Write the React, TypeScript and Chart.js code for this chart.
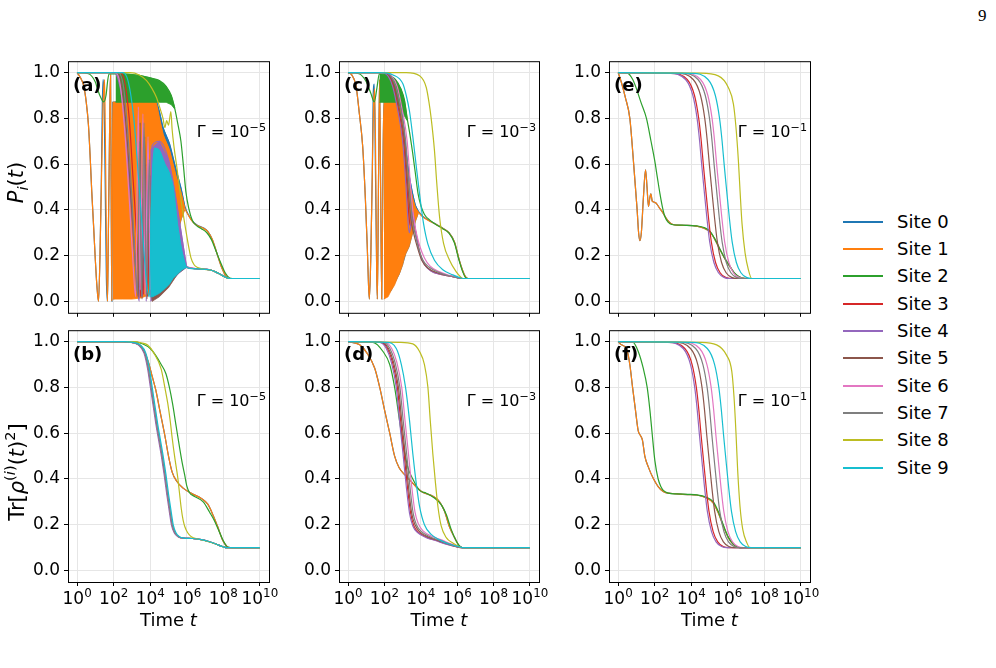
import React, { useEffect, useRef } from 'react';
import { Chart, registerables } from 'chart.js';
Chart.register(...registerables);

type Pt = [number, number];          // [log10 t, value]
type Band = [number, number, number]; // [log10 t, low, high]

const SITE_LABELS = ['Site 0', 'Site 1', 'Site 2', 'Site 3', 'Site 4', 'Site 5', 'Site 6', 'Site 7', 'Site 8', 'Site 9'];
const SITE_COLORS = ['#1f77b4', '#ff7f0e', '#2ca02c', '#d62728', '#9467bd', '#8c564b', '#e377c2', '#7f7f7f', '#bcbd22', '#17becf'];
const X_TICK_EXP = [0, 2, 4, 6, 8, 10];
const X_TICK_BASE = '10';
const X_TICK_SUPS = ['0', '2', '4', '6', '8', '10'];
const X_RANGE_EXP = [-0.5, 10.5];
const Y_TICKS = [0, 0.2, 0.4, 0.6, 0.8, 1.0];
const Y_RANGE = [-0.05, 1.05];

// ---------------- Panel (a): populations, Gamma = 1e-5 ----------------
const A_S0: Pt[] = [[0,1],[0.2,0.975],[0.35,0.945],[0.5,0.87],[0.62,0.77],[0.72,0.62],[0.8,0.48],[0.9,0.33],[0.99,0.19],[1.08,0.07],[1.17,0.0],[1.25,0.2],[1.32,0.5],[1.38,0.87],[1.42,0.97],[1.47,0.9],[1.53,0.55],[1.6,0.1],[1.66,0.0],[1.71,0.3],[1.76,0.63],[1.8,0.9],[1.83,0.99],[1.86,0.5],[1.9,0.0],[1.95,0.87],[4.3,0.88],[4.5,0.83],[4.7,0.76],[5.05,0.69],[5.4,0.58],[5.7,0.49],[5.88,0.42],[6.1,0.377],[6.35,0.347],[6.6,0.332],[6.9,0.322],[7.15,0.306],[7.4,0.27],[7.65,0.21],[7.9,0.15],[8.15,0.11],[8.35,0.1],[10,0.1]];
const A_B0: Band[] = [[1.95,0.01,0.87],[4.3,0.05,0.88],[4.5,0.08,0.83],[4.7,0.11,0.76],[5.05,0.17,0.69],[5.4,0.27,0.58],[5.7,0.36,0.49],[5.88,0.4,0.42]];
const A_S1: Pt[] = [[0,1],[0.2,0.975],[0.35,0.945],[0.5,0.87],[0.62,0.77],[0.72,0.62],[0.8,0.48],[0.9,0.33],[0.99,0.19],[1.08,0.07],[1.17,0.0],[1.25,0.2],[1.32,0.48],[1.4,0.8],[1.45,0.92],[1.5,0.97],[1.54,0.75],[1.58,0.45],[1.62,0.15],[1.66,0.0],[1.71,0.3],[1.76,0.63],[1.8,0.9],[1.83,0.99],[1.86,0.5],[1.9,0.0],[1.95,0.87],[4.3,0.87],[4.5,0.8],[4.7,0.73],[5.05,0.66],[5.4,0.55],[5.7,0.47],[5.88,0.41],[6.1,0.375],[6.35,0.345],[6.6,0.33],[6.9,0.32],[7.15,0.305],[7.4,0.27],[7.65,0.21],[7.9,0.15],[8.15,0.11],[8.35,0.1],[10,0.1]];
const A_B1: Band[] = [[1.95,0.01,0.87],[2.5,0.01,0.87],[3.0,0.01,0.87],[3.5,0.015,0.87],[4.0,0.03,0.87],[4.3,0.05,0.87],[4.5,0.08,0.8],[4.7,0.11,0.73],[5.05,0.17,0.66],[5.4,0.27,0.55],[5.7,0.36,0.47],[5.88,0.4,0.41]];
const A_S2: Pt[] = [[0,1],[0.62,0.995],[0.99,0.96],[1.15,0.92],[1.3,0.89],[1.45,0.872],[1.58,0.9],[1.68,0.97],[1.75,0.995],[2.5,0.995],[3.4,0.988],[4.1,0.975],[4.5,0.965],[4.87,0.94],[5.15,0.9],[5.35,0.84],[5.5,0.78],[5.68,0.7],[5.82,0.59],[5.95,0.48],[6.1,0.41],[6.3,0.355],[6.55,0.33],[6.8,0.318],[7.1,0.3],[7.35,0.27],[7.6,0.22],[7.85,0.17],[8.1,0.125],[8.35,0.102],[8.5,0.1],[10,0.1]];
const A_B2: Band[] = [[2.1,0.87,0.995],[2.5,0.87,0.995],[3.4,0.87,0.988],[4.1,0.87,0.975],[4.5,0.87,0.965],[4.87,0.87,0.94],[5.15,0.86,0.9],[5.35,0.84,0.845]];
const A_S3: Pt[] = [[0,1],[2.3,1],[2.6,0.96],[2.85,0.8],[3.05,0.55],[3.25,0.3],[3.4,0.08],[3.48,0.02],[3.56,0.45],[3.64,0.03],[3.75,0.6],[3.86,0.02],[4.0,0.55],[4.15,0.04],[4.35,0.5],[4.55,0.06],[4.8,0.42],[5.0,0.08],[5.25,0.3],[5.5,0.13],[5.75,0.16],[6.0,0.148],[6.5,0.143],[7.0,0.14],[7.3,0.137],[7.6,0.128],[7.9,0.115],[8.15,0.105],[8.35,0.1],[10,0.1]];
const A_S4: Pt[] = [[0,1],[2.0,1],[2.25,0.97],[2.5,0.86],[2.75,0.62],[2.95,0.42],[3.15,0.2],[3.3,0.05],[3.4,0.0],[3.5,0.55],[3.58,0.02],[3.68,0.7],[3.78,0.0],[3.9,0.66],[4.0,0.02],[4.1,0.68],[4.5,0.7],[5.0,0.62],[5.3,0.5],[5.6,0.35],[5.85,0.22],[6.0,0.152],[6.5,0.143],[7.0,0.14],[7.3,0.137],[7.6,0.128],[7.9,0.115],[8.15,0.105],[8.35,0.1],[10,0.1]];
const A_B4: Band[] = [[4.0,0.0,0.66],[4.2,0.01,0.68],[4.5,0.03,0.7],[5.0,0.07,0.62],[5.3,0.1,0.5],[5.6,0.125,0.35],[5.85,0.14,0.22],[6.0,0.148,0.152]];
const A_S5: Pt[] = [[0,1],[2.15,1],[2.4,0.96],[2.7,0.75],[2.95,0.45],[3.2,0.15],[3.35,0.02],[3.45,0.78],[3.55,0.01],[3.7,0.72],[3.82,0.01],[3.95,0.5],[4.1,0.0],[4.3,0.35],[4.5,0.35],[5.0,0.3],[5.5,0.2],[5.95,0.15],[6.5,0.143],[7.0,0.14],[7.3,0.137],[7.6,0.128],[7.9,0.115],[8.15,0.105],[8.35,0.1],[10,0.1]];
const A_B5: Band[] = [[4.1,0.0,0.3],[4.5,0.02,0.35],[5.0,0.06,0.3],[5.5,0.12,0.2],[5.95,0.148,0.15]];
const A_S6: Pt[] = [[0,1],[2.05,1],[2.35,0.95],[2.6,0.75],[2.85,0.45],[3.05,0.18],[3.2,0.02],[3.35,0.85],[3.45,0.05],[3.6,0.82],[3.72,0.03],[3.88,0.72],[4.02,0.05],[4.2,0.6],[4.4,0.08],[4.6,0.5],[4.85,0.1],[5.1,0.4],[5.35,0.13],[5.6,0.25],[5.85,0.15],[6.0,0.148],[6.5,0.143],[7.0,0.14],[7.3,0.137],[7.6,0.128],[7.9,0.115],[8.15,0.105],[8.35,0.1],[10,0.1]];
const A_S7: Pt[] = [[0,1],[2.25,1],[2.55,0.93],[2.85,0.65],[3.1,0.3],[3.3,0.03],[3.42,0.7],[3.52,0.02],[3.66,0.78],[3.8,0.02],[3.95,0.62],[4.1,0.03],[4.3,0.55],[4.5,0.05],[4.75,0.45],[5.0,0.09],[5.25,0.32],[5.5,0.13],[5.75,0.17],[6.0,0.148],[6.5,0.143],[7.0,0.14],[7.3,0.137],[7.6,0.128],[7.9,0.115],[8.15,0.105],[8.35,0.1],[10,0.1]];
const A_S8: Pt[] = [[0,1],[2.9,1],[3.4,0.99],[3.8,0.965],[4.1,0.93],[4.35,0.89],[4.55,0.84],[4.7,0.8],[4.8,0.76],[4.9,0.79],[5.0,0.77],[5.13,0.83],[5.2,0.75],[5.31,0.67],[5.45,0.59],[5.58,0.51],[5.75,0.41],[5.95,0.31],[6.1,0.24],[6.23,0.19],[6.4,0.16],[6.6,0.148],[7.0,0.14],[7.3,0.137],[7.6,0.128],[7.9,0.115],[8.15,0.105],[8.35,0.1],[10,0.1]];
const A_S9: Pt[] = [[0,1],[2.5,1],[2.8,0.96],[3.1,0.8],[3.35,0.55],[3.6,0.28],[3.8,0.08],[3.95,0.02],[4.05,0.35],[4.15,0.6],[4.25,0.67],[4.5,0.66],[4.8,0.6],[5.05,0.56],[5.25,0.5],[5.5,0.33],[5.7,0.23],[5.85,0.18],[5.97,0.15],[6.3,0.143],[7.0,0.14],[7.3,0.137],[7.6,0.128],[7.9,0.115],[8.15,0.105],[8.35,0.1],[10,0.1]];
const A_B9: Band[] = [[4.0,0.02,0.3],[4.15,0.02,0.6],[4.25,0.025,0.67],[4.5,0.035,0.66],[4.8,0.055,0.6],[5.05,0.075,0.56],[5.25,0.1,0.5],[5.5,0.12,0.33],[5.7,0.135,0.23],[5.85,0.143,0.18],[5.97,0.148,0.15]];

// ---------------- Panel (b): purity, Gamma = 1e-5 ----------------
const B_S01: Pt[] = [[0,1],[2.5,1],[3.2,0.995],[3.6,0.97],[3.9,0.91],[4.1,0.85],[4.3,0.79],[4.55,0.69],[4.8,0.59],[5.0,0.5],[5.2,0.43],[5.45,0.39],[5.8,0.36],[6.3,0.335],[6.8,0.315],[7.15,0.29],[7.45,0.24],[7.7,0.19],[7.95,0.135],[8.2,0.105],[8.4,0.1],[10,0.1]];
const B_S2: Pt[] = [[0,1],[3.0,1],[3.6,0.99],[4.0,0.97],[4.3,0.94],[4.6,0.9],[4.86,0.86],[5.05,0.8],[5.22,0.73],[5.4,0.64],[5.6,0.54],[5.75,0.47],[5.88,0.42],[6.0,0.37],[6.15,0.34],[6.4,0.325],[6.9,0.3],[7.25,0.255],[7.5,0.22],[7.75,0.175],[8.0,0.13],[8.25,0.102],[8.5,0.1],[10,0.1]];
const B_BULK: Pt[] = [[0,1],[2.5,1],[3.0,0.997],[3.4,0.985],[3.7,0.95],[3.9,0.88],[4.05,0.8],[4.2,0.72],[4.35,0.64],[4.5,0.57],[4.65,0.5],[4.8,0.42],[4.95,0.33],[5.1,0.25],[5.2,0.2],[5.35,0.165],[5.55,0.148],[5.8,0.142],[6.3,0.14],[6.8,0.135],[7.2,0.127],[7.6,0.116],[7.95,0.105],[8.2,0.1],[10,0.1]];
const B_S4: Pt[] = [[0,1],[2.45,1],[2.96,0.997],[3.36,0.985],[3.66,0.95],[3.86,0.88],[4.01,0.8],[4.16,0.72],[4.31,0.64],[4.46,0.57],[4.61,0.5],[4.76,0.42],[4.91,0.33],[5.06,0.25],[5.16,0.2],[5.31,0.165],[5.52,0.148],[5.8,0.142],[6.3,0.14],[6.8,0.135],[7.2,0.127],[7.6,0.116],[7.95,0.105],[8.2,0.1],[10,0.1]];
const B_S8: Pt[] = [[0,1],[3.0,1],[3.5,0.995],[3.86,0.985],[4.2,0.95],[4.6,0.88],[4.8,0.8],[4.96,0.73],[5.1,0.65],[5.2,0.58],[5.35,0.49],[5.5,0.41],[5.6,0.34],[5.7,0.27],[5.8,0.22],[5.9,0.19],[6.05,0.165],[6.25,0.148],[6.6,0.138],[7.0,0.13],[7.5,0.118],[7.9,0.106],[8.2,0.1],[10,0.1]];
const B_S9: Pt[] = [[0,1],[2.55,1],[3.06,0.997],[3.46,0.985],[3.76,0.95],[3.96,0.88],[4.11,0.8],[4.26,0.72],[4.41,0.64],[4.56,0.57],[4.71,0.5],[4.86,0.42],[5.01,0.33],[5.16,0.25],[5.26,0.2],[5.41,0.165],[5.6,0.148],[5.85,0.142],[6.3,0.14],[6.8,0.135],[7.2,0.127],[7.6,0.116],[7.95,0.105],[8.2,0.1],[10,0.1]];

// ---------------- Panel (c): populations, Gamma = 1e-3 ----------------
const C_S0: Pt[] = [[0,1],[0.2,0.99],[0.44,0.94],[0.62,0.82],[0.8,0.68],[0.95,0.45],[1.05,0.25],[1.12,0.08],[1.17,0.01],[1.25,0.2],[1.33,0.55],[1.38,0.9],[1.44,0.95],[1.5,0.6],[1.57,0.15],[1.61,0.01],[1.67,0.5],[1.73,0.97],[1.79,0.5],[1.85,0.01],[1.92,0.6],[1.97,0.87],[2.82,0.875],[3.0,0.8],[3.18,0.66],[3.36,0.55],[3.55,0.47],[3.7,0.42],[3.86,0.395],[4.1,0.372],[4.4,0.356],[4.75,0.341],[5.2,0.321],[5.55,0.3],[5.85,0.26],[6.1,0.185],[6.3,0.135],[6.45,0.108],[6.6,0.1],[10,0.1]];
const C_B0: Band[] = [[1.97,0.01,0.87],[2.36,0.046,0.87],[2.72,0.104,0.87],[2.82,0.12,0.875],[3.0,0.16,0.8],[3.18,0.21,0.66],[3.36,0.24,0.55],[3.55,0.3,0.47],[3.7,0.35,0.42],[3.86,0.385,0.395]];
const C_S1: Pt[] = [[0,1],[0.2,0.99],[0.44,0.94],[0.62,0.82],[0.8,0.68],[0.95,0.45],[1.05,0.25],[1.12,0.08],[1.17,0.01],[1.25,0.2],[1.33,0.55],[1.4,0.85],[1.46,0.93],[1.52,0.6],[1.57,0.15],[1.61,0.01],[1.67,0.5],[1.73,0.97],[1.79,0.5],[1.85,0.01],[1.92,0.6],[1.97,0.87],[2.82,0.87],[3.0,0.77],[3.18,0.62],[3.36,0.52],[3.55,0.45],[3.7,0.41],[3.86,0.39],[4.1,0.37],[4.4,0.355],[4.75,0.34],[5.2,0.32],[5.55,0.3],[5.85,0.26],[6.1,0.185],[6.3,0.135],[6.45,0.108],[6.6,0.1],[10,0.1]];
const C_B1: Band[] = [[1.97,0.01,0.87],[2.2,0.02,0.87],[2.36,0.046,0.87],[2.55,0.07,0.87],[2.72,0.104,0.87],[2.82,0.12,0.87],[3.0,0.16,0.77],[3.09,0.19,0.7],[3.18,0.21,0.62],[3.36,0.24,0.52],[3.55,0.3,0.45],[3.7,0.35,0.41],[3.86,0.385,0.39]];
const C_S2: Pt[] = [[0,1],[0.6,0.995],[1.0,0.96],[1.25,0.91],[1.44,0.872],[1.58,0.93],[1.72,0.995],[2.2,0.99],[2.6,0.97],[2.9,0.93],[3.1,0.88],[3.25,0.8],[3.4,0.73],[3.55,0.65],[3.7,0.56],[3.85,0.47],[4.0,0.42],[4.2,0.38],[4.5,0.355],[4.75,0.34],[5.2,0.318],[5.55,0.298],[5.85,0.255],[6.1,0.18],[6.3,0.13],[6.45,0.105],[6.6,0.1],[10,0.1]];
const C_B2: Band[] = [[1.72,0.87,0.995],[2.2,0.87,0.99],[2.6,0.87,0.97],[2.9,0.85,0.93],[3.1,0.81,0.88],[3.25,0.79,0.8]];
const C_S3: Pt[] = [[0,1],[1.85,1],[2.25,0.985],[2.5,0.94],[2.77,0.84],[3.04,0.7],[3.22,0.52],[3.36,0.36],[3.45,0.33],[3.55,0.37],[3.65,0.33],[3.78,0.28],[3.95,0.21],[4.22,0.16],[4.6,0.132],[5.1,0.118],[5.65,0.11],[6.0,0.104],[6.3,0.1],[10,0.1]];
const C_S4: Pt[] = [[0,1],[1.8,1],[2.2,0.985],[2.45,0.94],[2.72,0.84],[3.0,0.7],[3.18,0.51],[3.31,0.335],[3.37,0.3],[3.45,0.33],[3.55,0.39],[3.64,0.35],[3.73,0.3],[3.91,0.22],[4.19,0.162],[4.55,0.133],[5.1,0.118],[5.65,0.11],[6.0,0.104],[6.3,0.1],[10,0.1]];
const C_S5: Pt[] = [[0,1],[1.9,1],[2.3,0.985],[2.55,0.94],[2.82,0.84],[3.1,0.7],[3.28,0.51],[3.45,0.36],[3.6,0.3],[3.8,0.24],[4.05,0.18],[4.4,0.145],[4.9,0.125],[5.5,0.112],[6.0,0.104],[6.3,0.1],[10,0.1]];
const C_S6: Pt[] = [[0,1],[2.0,1],[2.4,0.985],[2.7,0.94],[2.97,0.84],[3.25,0.7],[3.43,0.51],[3.6,0.37],[3.75,0.3],[3.95,0.24],[4.2,0.19],[4.5,0.155],[5.0,0.13],[5.5,0.115],[6.0,0.105],[6.35,0.1],[10,0.1]];
const C_S7: Pt[] = [[0,1],[1.95,1],[2.35,0.985],[2.62,0.94],[2.9,0.84],[3.17,0.7],[3.35,0.51],[3.52,0.37],[3.67,0.3],[3.87,0.235],[4.12,0.18],[4.45,0.15],[4.95,0.128],[5.5,0.113],[6.0,0.104],[6.3,0.1],[10,0.1]];
const C_S8: Pt[] = [[0,1],[3.2,1],[3.93,0.986],[4.3,0.935],[4.45,0.87],[4.57,0.8],[4.75,0.66],[4.88,0.514],[5.03,0.37],[5.25,0.254],[5.58,0.18],[5.94,0.13],[6.15,0.11],[6.31,0.1],[10,0.1]];
const C_S9: Pt[] = [[0,1],[1.74,1],[2.47,0.99],[3.02,0.95],[3.2,0.9],[3.38,0.83],[3.56,0.72],[3.75,0.59],[3.93,0.47],[4.15,0.34],[4.39,0.25],[4.75,0.18],[5.21,0.138],[5.76,0.116],[6.1,0.105],[6.31,0.1],[10,0.1]];

// ---------------- Panel (d): purity, Gamma = 1e-3 ----------------
const D_S01: Pt[] = [[0,1],[0.64,0.986],[1.04,0.95],[1.46,0.885],[1.74,0.8],[2.01,0.7],[2.29,0.6],[2.56,0.5],[2.8,0.45],[3.1,0.42],[3.4,0.395],[3.75,0.365],[4.1,0.342],[4.66,0.325],[5.03,0.3],[5.3,0.26],[5.58,0.19],[5.85,0.145],[6.05,0.115],[6.2,0.103],[6.35,0.1],[10,0.1]];
const D_S2: Pt[] = [[0,1],[1.37,0.997],[1.92,0.957],[2.29,0.9],[2.56,0.8],[2.83,0.655],[3.05,0.54],[3.29,0.45],[3.56,0.4],[3.93,0.35],[4.3,0.338],[4.75,0.317],[5.12,0.288],[5.4,0.245],[5.67,0.18],[5.94,0.13],[6.1,0.11],[6.25,0.1],[10,0.1]];
const D_S3: Pt[] = [[0,1],[1.8,0.997],[2.16,0.97],[2.44,0.91],[2.71,0.8],[2.89,0.655],[3.08,0.51],[3.26,0.367],[3.44,0.25],[3.62,0.195],[3.9,0.165],[4.36,0.144],[4.9,0.13],[5.45,0.115],[5.95,0.104],[6.3,0.1],[10,0.1]];
const D_S4: Pt[] = [[0,1],[1.74,0.997],[2.1,0.97],[2.38,0.91],[2.65,0.8],[2.83,0.655],[3.02,0.51],[3.2,0.367],[3.38,0.25],[3.56,0.195],[3.84,0.165],[4.3,0.144],[4.84,0.13],[5.4,0.115],[5.94,0.104],[6.3,0.1],[10,0.1]];
const D_S5: Pt[] = [[0,1],[1.86,0.997],[2.22,0.97],[2.5,0.91],[2.77,0.8],[2.95,0.655],[3.14,0.51],[3.32,0.367],[3.5,0.25],[3.68,0.2],[3.96,0.168],[4.42,0.146],[4.96,0.131],[5.5,0.116],[6.0,0.104],[6.3,0.1],[10,0.1]];
const D_S6: Pt[] = [[0,1],[2.04,0.997],[2.4,0.97],[2.68,0.91],[2.95,0.8],[3.13,0.655],[3.32,0.51],[3.5,0.367],[3.68,0.255],[3.86,0.205],[4.14,0.172],[4.6,0.15],[5.14,0.134],[5.6,0.118],[6.0,0.106],[6.3,0.1],[10,0.1]];
const D_S7: Pt[] = [[0,1],[1.94,0.997],[2.3,0.97],[2.58,0.91],[2.85,0.8],[3.03,0.655],[3.22,0.51],[3.4,0.367],[3.58,0.25],[3.76,0.2],[4.04,0.17],[4.5,0.148],[5.04,0.132],[5.55,0.117],[6.0,0.105],[6.3,0.1],[10,0.1]];
const D_S8: Pt[] = [[0,1],[2.83,0.997],[3.56,0.99],[3.93,0.957],[4.2,0.9],[4.39,0.8],[4.52,0.655],[4.66,0.51],[4.79,0.396],[4.94,0.28],[5.12,0.195],[5.4,0.144],[5.76,0.12],[6.12,0.104],[6.35,0.1],[10,0.1]];
const D_S9: Pt[] = [[0,1],[2.1,0.997],[2.65,0.97],[2.93,0.9],[3.16,0.8],[3.38,0.655],[3.56,0.51],[3.75,0.38],[3.93,0.28],[4.2,0.2],[4.57,0.158],[5.03,0.134],[5.58,0.115],[6.12,0.104],[6.35,0.1],[10,0.1]];

// ---------------- Panel (e): populations, Gamma = 1e-1 ----------------
const E_S01: Pt[] = [[0,1],[0.18,0.957],[0.4,0.89],[0.64,0.8],[0.85,0.6],[1.04,0.4],[1.12,0.3],[1.19,0.265],[1.27,0.3],[1.38,0.45],[1.5,0.575],[1.58,0.5],[1.66,0.415],[1.73,0.45],[1.79,0.47],[1.86,0.44],[1.92,0.435],[2.07,0.43],[2.25,0.41],[2.47,0.385],[2.7,0.355],[2.93,0.338],[3.2,0.333],[3.8,0.332],[4.3,0.329],[4.7,0.32],[5.03,0.304],[5.3,0.27],[5.58,0.225],[5.85,0.185],[6.12,0.152],[6.35,0.125],[6.58,0.109],[6.8,0.102],[7.0,0.1],[10,0.1]];
const E_S2: Pt[] = [[0,1],[0.5,0.998],[0.8,0.97],[1.0,0.93],[1.25,0.87],[1.55,0.8],[1.8,0.7],[2.0,0.616],[2.15,0.54],[2.29,0.47],[2.43,0.41],[2.56,0.37],[2.75,0.345],[2.93,0.336],[3.5,0.333],[4.3,0.33],[4.7,0.323],[5.03,0.306],[5.3,0.272],[5.58,0.227],[5.85,0.186],[6.12,0.153],[6.35,0.126],[6.58,0.11],[6.8,0.102],[7.0,0.1],[10,0.1]];
const E_S3: Pt[] = [[0,1],[2.88,0.997],[3.78,0.97],[4.18,0.9],[4.41,0.8],[4.55,0.7],[4.66,0.6],[4.78,0.5],[4.94,0.37],[5.1,0.26],[5.33,0.17],[5.58,0.125],[5.88,0.105],[6.18,0.1],[10,0.1]];
const E_S4: Pt[] = [[0,1],[2.79,0.997],[3.69,0.97],[4.09,0.9],[4.32,0.8],[4.46,0.7],[4.57,0.6],[4.69,0.5],[4.85,0.37],[5.01,0.26],[5.24,0.17],[5.49,0.125],[5.79,0.105],[6.09,0.1],[10,0.1]];
const E_S5: Pt[] = [[0,1],[3.21,0.997],[4.11,0.97],[4.51,0.9],[4.74,0.8],[4.88,0.7],[4.99,0.6],[5.11,0.5],[5.27,0.37],[5.43,0.26],[5.66,0.17],[5.91,0.125],[6.21,0.105],[6.51,0.1],[10,0.1]];
const E_S6: Pt[] = [[0,1],[3.61,0.997],[4.51,0.97],[4.91,0.9],[5.14,0.8],[5.28,0.7],[5.39,0.6],[5.51,0.5],[5.67,0.37],[5.83,0.26],[6.06,0.17],[6.31,0.125],[6.61,0.105],[6.91,0.1],[10,0.1]];
const E_S7: Pt[] = [[0,1],[3.47,0.997],[4.37,0.97],[4.77,0.9],[5.0,0.8],[5.14,0.7],[5.25,0.6],[5.37,0.5],[5.53,0.37],[5.69,0.26],[5.92,0.17],[6.17,0.125],[6.47,0.105],[6.77,0.1],[10,0.1]];
const E_S8: Pt[] = [[0,1],[4.48,0.998],[5.48,0.986],[6.03,0.935],[6.31,0.862],[6.45,0.76],[6.58,0.616],[6.67,0.486],[6.78,0.34],[6.95,0.21],[7.13,0.138],[7.31,0.1],[10,0.1]];
const E_S9: Pt[] = [[0,1],[4.02,0.997],[4.92,0.97],[5.32,0.9],[5.55,0.8],[5.69,0.7],[5.8,0.6],[5.92,0.5],[6.08,0.37],[6.24,0.26],[6.47,0.17],[6.72,0.125],[7.02,0.105],[7.32,0.1],[10,0.1]];

// ---------------- Panel (f): purity, Gamma = 1e-1 ----------------
const F_S01: Pt[] = [[0,1],[0.18,0.986],[0.46,0.97],[0.64,0.9],[0.79,0.8],[0.95,0.7],[1.1,0.61],[1.22,0.59],[1.33,0.57],[1.46,0.5],[1.65,0.453],[1.92,0.403],[2.19,0.367],[2.47,0.345],[2.74,0.338],[3.2,0.335],[3.8,0.332],[4.3,0.33],[4.84,0.317],[5.21,0.295],[5.48,0.252],[5.76,0.194],[6.03,0.144],[6.3,0.115],[6.5,0.104],[6.67,0.1],[10,0.1]];
const F_S2: Pt[] = [[0,1],[0.82,0.997],[1.1,0.957],[1.37,0.885],[1.59,0.8],[1.74,0.7],[1.86,0.6],[2.01,0.48],[2.19,0.4],[2.35,0.365],[2.47,0.35],[2.74,0.338],[3.2,0.335],[3.8,0.333],[4.3,0.331],[4.84,0.32],[5.21,0.3],[5.48,0.258],[5.76,0.198],[6.03,0.146],[6.3,0.116],[6.5,0.104],[6.67,0.1],[10,0.1]];
const F_S3: Pt[] = [[0,1],[2.75,0.997],[3.65,0.97],[4.05,0.9],[4.28,0.8],[4.42,0.7],[4.53,0.6],[4.65,0.5],[4.81,0.37],[4.97,0.26],[5.2,0.17],[5.45,0.125],[5.75,0.105],[6.05,0.1],[10,0.1]];
const F_S4: Pt[] = [[0,1],[2.66,0.997],[3.56,0.97],[3.96,0.9],[4.19,0.8],[4.33,0.7],[4.44,0.6],[4.56,0.5],[4.72,0.37],[4.88,0.26],[5.11,0.17],[5.36,0.125],[5.66,0.105],[5.96,0.1],[10,0.1]];
const F_S5: Pt[] = [[0,1],[3.06,0.997],[3.96,0.97],[4.36,0.9],[4.59,0.8],[4.73,0.7],[4.84,0.6],[4.96,0.5],[5.12,0.37],[5.28,0.26],[5.51,0.17],[5.76,0.125],[6.06,0.105],[6.36,0.1],[10,0.1]];
const F_S6: Pt[] = [[0,1],[3.56,0.997],[4.46,0.97],[4.86,0.9],[5.09,0.8],[5.23,0.7],[5.34,0.6],[5.46,0.5],[5.62,0.37],[5.78,0.26],[6.01,0.17],[6.26,0.125],[6.56,0.105],[6.86,0.1],[10,0.1]];
const F_S7: Pt[] = [[0,1],[3.34,0.997],[4.24,0.97],[4.64,0.9],[4.87,0.8],[5.01,0.7],[5.12,0.6],[5.24,0.5],[5.4,0.37],[5.56,0.26],[5.79,0.17],[6.04,0.125],[6.34,0.105],[6.64,0.1],[10,0.1]];
const F_S8: Pt[] = [[0,1],[4.48,0.997],[5.39,0.986],[5.94,0.94],[6.22,0.87],[6.34,0.76],[6.45,0.6],[6.54,0.44],[6.67,0.28],[6.82,0.18],[7.04,0.122],[7.22,0.1],[10,0.1]];
const F_S9: Pt[] = [[0,1],[3.98,0.997],[4.88,0.97],[5.28,0.9],[5.51,0.8],[5.65,0.7],[5.76,0.6],[5.88,0.5],[6.04,0.37],[6.2,0.26],[6.43,0.17],[6.68,0.125],[6.98,0.105],[7.28,0.1],[10,0.1]];

// ---------------- layout (page pixels) ----------------
const COL_LEFT = [68, 339, 609];
const COL_RIGHT = [269, 539, 810];
const ROW_TOP = [59, 328];
const ROW_BOTTOM = [313, 582];
const Y_AXIS_W = 68;
const PAD_TOP = 12;
const PAD_RIGHT = 30;
const X_AXIS_H = [14, 56];
const FONT = "'DejaVu Sans', sans-serif";

type Run = { t: string; italic?: boolean; bold?: boolean; scale?: number; rise?: number };
const Y_TITLE_TOP: Run[] = [{ t: 'P', italic: true }, { t: 'i', italic: true, scale: 0.7, rise: -0.22 }, { t: '(' }, { t: 't', italic: true }, { t: ')' }];
const Y_TITLE_BOTTOM: Run[] = [{ t: 'Tr[' }, { t: 'ρ', italic: true }, { t: '(', scale: 0.7, rise: 0.45 }, { t: 'i', italic: true, scale: 0.7, rise: 0.45 }, { t: ')', scale: 0.7, rise: 0.45 }, { t: '(' }, { t: 't', italic: true }, { t: ')' }, { t: '2', scale: 0.7, rise: 0.45 }, { t: ']' }];
const X_TITLE: Run[] = [{ t: 'Time ' }, { t: 't', italic: true }];
const Y_TITLE_CENTER = [[16, 182.5], [17, 472]];

const PANELS = [
  { letter: '(a)', row: 0, col: 0, gamma: '−5', lines: [A_S0, A_S1, A_S2, A_S3, A_S4, A_S5, A_S6, A_S7, A_S8, A_S9], bands: [A_B0, A_B1, A_B2, null, A_B4, A_B5, null, null, null, A_B9] },
  { letter: '(c)', row: 0, col: 1, gamma: '−3', lines: [C_S0, C_S1, C_S2, C_S3, C_S4, C_S5, C_S6, C_S7, C_S8, C_S9], bands: [C_B0, C_B1, C_B2, null, null, null, null, null, null, null] },
  { letter: '(e)', row: 0, col: 2, gamma: '−1', lines: [E_S01, E_S01, E_S2, E_S3, E_S4, E_S5, E_S6, E_S7, E_S8, E_S9], bands: [] },
  { letter: '(b)', row: 1, col: 0, gamma: '−5', lines: [B_S01, B_S01, B_S2, B_BULK, B_S4, B_BULK, B_BULK, B_BULK, B_S8, B_S9], bands: [] },
  { letter: '(d)', row: 1, col: 1, gamma: '−3', lines: [D_S01, D_S01, D_S2, D_S3, D_S4, D_S5, D_S6, D_S7, D_S8, D_S9], bands: [] },
  { letter: '(f)', row: 1, col: 2, gamma: '−1', lines: [F_S01, F_S01, F_S2, F_S3, F_S4, F_S5, F_S6, F_S7, F_S8, F_S9], bands: [] },
];

function runFont(r: Run, size: number) {
  return `${r.italic ? 'italic ' : ''}${r.bold ? 'bold ' : ''}${size * (r.scale || 1)}px ${FONT}`;
}
function drawRuns(ctx: CanvasRenderingContext2D, runs: Run[], x: number, y: number, size: number, align: 'left' | 'right' | 'center') {
  const widths = runs.map((r) => { ctx.font = runFont(r, size); return ctx.measureText(r.t).width; });
  const total = widths.reduce((a, b) => a + b, 0);
  let cx = align === 'left' ? x : align === 'right' ? x - total : x - total / 2;
  ctx.textAlign = 'left';
  ctx.textBaseline = 'alphabetic';
  runs.forEach((r, i) => {
    ctx.font = runFont(r, size);
    ctx.fillText(r.t, cx, y - (r.rise || 0) * size);
    cx += widths[i];
  });
}

const decorPlugin = {
  id: 'decor',
  afterDraw(chart: any) {
    const o = chart.options.plugins.decor;
    const ctx: CanvasRenderingContext2D = chart.ctx;
    const ca = chart.chartArea;
    ctx.save();
    ctx.strokeStyle = '#000';
    ctx.lineWidth = 1;
    ctx.strokeRect(ca.left + 0.5, ca.top + 0.5, ca.right - ca.left, ca.bottom - ca.top);
    ctx.fillStyle = '#000';
    drawRuns(ctx, [{ t: o.letter, bold: true }], ca.left + 5, ca.top + 29.5, 18, 'left');
    drawRuns(ctx, [{ t: 'Γ = 10' }, { t: o.gamma, scale: 0.7, rise: 0.4 }], ca.right - 3, ca.top + 76, 16, 'right');
    if (o.xTicks) {
      const xs = chart.scales.x;
      xs.ticks.forEach((tk: any, i: number) => {
        const px = xs.getPixelForValue(tk.value);
        drawRuns(ctx, [{ t: X_TICK_BASE }, { t: X_TICK_SUPS[i], scale: 0.7, rise: 0.42 }], px, ca.bottom + 22, 17, 'center');
      });
    }
    if (o.yTitle) {
      ctx.save();
      ctx.translate(o.yTitle.cx, o.yTitle.cy);
      ctx.rotate(-Math.PI / 2);
      drawRuns(ctx, o.yTitle.runs, 0, 7, 21, 'center');
      ctx.restore();
    }
    if (o.xTitle) {
      drawRuns(ctx, X_TITLE, (ca.left + ca.right) / 2, ca.bottom + 44, 18, 'center');
    }
    ctx.restore();
  },
};

const toXY = (pts: Pt[]) => pts.map(([e, v]) => ({ x: Math.pow(10, e), y: v }));

function Panel({ spec }: { spec: any }) {
  const ref = useRef<HTMLCanvasElement>(null);
  const L = COL_LEFT[spec.col], R = COL_RIGHT[spec.col], T = ROW_TOP[spec.row], B = ROW_BOTTOM[spec.row];
  const left = L - Y_AXIS_W;
  const top = T - PAD_TOP;
  const width = R - L + Y_AXIS_W + PAD_RIGHT;
  const height = B - T + PAD_TOP + X_AXIS_H[spec.row];
  const isBottom = spec.row === 1;

  useEffect(() => {
    const datasets: any[] = [];
    let k = 0;
    for (let i = 0; i < SITE_LABELS.length; i++) {
      const color = SITE_COLORS[i];
      const band: Band[] | null = spec.bands[i] || null;
      if (band) {
        datasets.push({ label: SITE_LABELS[i] + ' hi', data: band.map(([e, , hi]) => ({ x: Math.pow(10, e), y: hi })), borderColor: color, backgroundColor: color, borderWidth: 0.8, fill: '+1', pointRadius: 0, tension: 0, order: 1000 - k++ });
        datasets.push({ label: SITE_LABELS[i] + ' lo', data: band.map(([e, lo]) => ({ x: Math.pow(10, e), y: lo })), borderColor: color, borderWidth: 0.8, fill: false, pointRadius: 0, tension: 0, order: 1000 - k++ });
      }
      datasets.push({ label: SITE_LABELS[i], data: toXY(spec.lines[i]), borderColor: color, borderWidth: 1.2, fill: false, pointRadius: 0, cubicInterpolationMode: 'monotone', order: 1000 - k++ });
    }
    const yTitle = spec.col === 0 ? { runs: spec.row === 0 ? Y_TITLE_TOP : Y_TITLE_BOTTOM, cx: Y_TITLE_CENTER[spec.row][0] - left, cy: Y_TITLE_CENTER[spec.row][1] - top } : null;
    const chart = new Chart(ref.current as HTMLCanvasElement, {
      type: 'line',
      data: { datasets },
      plugins: [decorPlugin],
      options: {
        responsive: false,
        animation: false,
        devicePixelRatio: 1,
        events: [],
        layout: { padding: { left: 0, top: PAD_TOP, right: PAD_RIGHT, bottom: 0 } },
        plugins: {
          legend: { display: false },
          tooltip: { enabled: false },
          decor: { letter: spec.letter, gamma: spec.gamma, yTitle, xTitle: isBottom, xTicks: isBottom },
        } as any,
        scales: {
          x: {
            type: 'logarithmic',
            bounds: 'data',
            min: Math.pow(10, X_RANGE_EXP[0]),
            max: Math.pow(10, X_RANGE_EXP[1]),
            afterBuildTicks: (s: any) => { s.ticks = X_TICK_EXP.map((p) => ({ value: Math.pow(10, p), major: true })); },
            afterFit: (s: any) => { s.height = X_AXIS_H[spec.row]; },
            ticks: { display: false, autoSkip: false, maxRotation: 0, minRotation: 0 },
            grid: { color: '#e6e6e6', lineWidth: 1, drawTicks: true, tickLength: 4, tickColor: '#000', tickWidth: 1 },
            border: { display: false },
          },
          y: {
            type: 'linear',
            bounds: 'data',
            min: Y_RANGE[0],
            max: Y_RANGE[1],
            afterBuildTicks: (s: any) => { s.ticks = Y_TICKS.map((v) => ({ value: v })); },
            afterFit: (s: any) => { s.width = Y_AXIS_W; },
            ticks: {
              padding: 4,
              color: '#000',
              font: { family: FONT, size: 17 },
              callback: (v: any) => Number(v).toFixed(1),
            },
            grid: { color: '#e6e6e6', lineWidth: 1, drawTicks: true, tickLength: 4, tickColor: '#000', tickWidth: 1 },
            border: { display: false },
          },
        },
      } as any,
    });
    return () => chart.destroy();
  }, []);

  return (
    <canvas
      ref={ref}
      width={width}
      height={height}
      style={{ position: 'absolute', left, top, width, height }}
    />
  );
}

const LEGEND_X_LINE = 843;
const LEGEND_LINE_W = 40;
const LEGEND_X_TEXT = 897;
const LEGEND_Y0 = 221.7;
const LEGEND_DY = 27.33;

export default function App() {
  return (
    <div style={{ position: 'fixed', left: 0, top: 0, width: 996, height: 668, background: '#fff', overflow: 'hidden' }}>
      <div style={{ position: 'absolute', left: 978, top: 7, fontFamily: "'Liberation Serif', 'DejaVu Serif', serif", fontSize: 17, lineHeight: '17px', color: '#000' }}>9</div>
      {PANELS.map((p) => <Panel key={p.letter} spec={p} />)}
      {SITE_LABELS.map((lab, i) => {
        const cy = LEGEND_Y0 + LEGEND_DY * i;
        return (
          <React.Fragment key={lab}>
            <div style={{ position: 'absolute', left: LEGEND_X_LINE, top: cy - 1, width: LEGEND_LINE_W, height: 2, background: SITE_COLORS[i] }} />
            <div style={{ position: 'absolute', left: LEGEND_X_TEXT, top: cy - 11, height: 22, lineHeight: '22px', fontFamily: FONT, fontSize: 18, color: '#000', whiteSpace: 'nowrap' }}>{lab}</div>
          </React.Fragment>
        );
      })}
    </div>
  );
}
